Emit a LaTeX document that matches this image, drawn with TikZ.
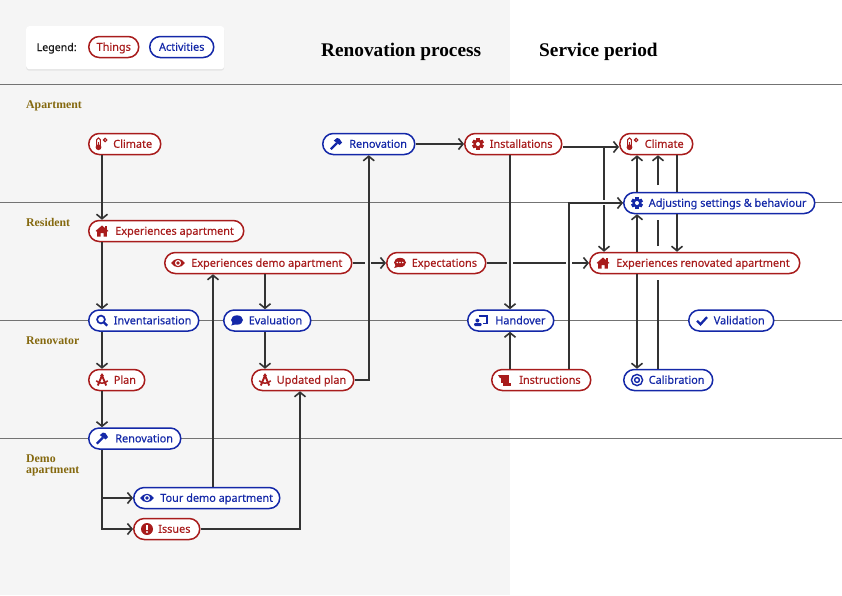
\documentclass[tikz,border=0pt]{standalone}
\usepackage{fontspec}
\setmainfont{Noto Sans}[FakeBold=0.35]
\newfontfamily\headfont{Liberation Serif}[BoldFont={Liberation Serif Bold}]
\usetikzlibrary{arrows.meta,shadows}
\definecolor{thingred}{HTML}{A81C1C}
\definecolor{activityblue}{HTML}{1428A8}
\definecolor{linegrey}{HTML}{333333}
\definecolor{bandgrey}{HTML}{F5F5F5}
\definecolor{rolebrown}{HTML}{85690F}
\tikzset{
    pill/.style={rounded corners=10.5pt,fill=white,line width=1.5pt,minimum height=21pt,inner xsep=0pt,inner ysep=0pt,
        text height=9.5pt,text depth=2pt,font=\fontsize{10.9}{12}\selectfont},
    thing/.style={pill,draw=thingred,text=thingred},
    activity/.style={pill,draw=activityblue,text=activityblue},
    thingicon/.style={color=thingred},
    activityicon/.style={color=activityblue},
    flow/.style={draw=linegrey,line width=1.6pt,>={Straight Barb[length=4.5pt,width=11pt]}},
    band/.style={draw=black!55,line width=0.9pt},
    role/.style={anchor=base west,inner sep=0pt,text=rolebrown,font=\headfont\bfseries\fontsize{11.8}{11}\selectfont,align=left},
    period/.style={anchor=base west,inner sep=0pt,font=\headfont\bfseries\fontsize{19.3}{20}\selectfont},
    thermo/.pic={\draw[line width=1.1pt,rounded corners=1.8pt] (-5.4,-6) rectangle (-1.6,3);
        \fill (-3.5,3.2) circle (2.9); \fill (-4.2,-2.5) rectangle (-2.8,3);
        \draw[line width=1.1pt] (3.2,-4) circle (1.7);},
    house/.pic={\fill (-6.5,0) -- (0,-5.5) -- (6.5,0) -- (4.8,0.8) -- (4.8,5.5) -- (1.5,5.5) -- (1.5,2) -- (-1.5,2) -- (-1.5,5.5) -- (-4.8,5.5) -- (-4.8,0.8) -- cycle;
        \fill (2.8,-5) rectangle (4.8,-1.5);},
    eye/.pic={\fill (-6.8,0) .. controls (-3,-5.6) and (3,-5.6) .. (6.8,0) .. controls (3,5.6) and (-3,5.6) .. cycle;
        \fill[white] (0,0) circle (3); \fill (0,0) circle (1.8);},
    lens/.pic={\draw[line width=1.7pt] (-1,-1) circle (3.9); \draw[line width=2.3pt] (1.8,1.8) -- (5.2,5.2);},
    bubble/.pic={\fill (0,-0.5) ellipse (6 and 4.7); \fill (-4,1.5) -- (-5.8,5) -- (-0.8,3.6) -- cycle;},
    talk/.pic={\fill (0,-0.5) ellipse (6 and 4.7); \fill (-4,1.5) -- (-5.8,5) -- (-0.8,3.6) -- cycle;
        \foreach \dx in {-2.8,0,2.8}{\fill[white] (\dx,-0.5) circle (0.9);}},
    dividers/.pic={\fill (0,-4.5) circle (1.9);
        \draw[line width=1.9pt] (-4.2,5.5) -- (0,-4.5) -- (4.2,5.5);
        \draw[line width=1.5pt] (-5.8,0.8) .. controls (-2,4) and (2,4) .. (5.8,0.8);},
    hammer/.pic={\draw[line width=2.2pt] (-5.2,5.2) -- (1,-1);
        \fill (-2.2,-3.4) -- (1,-6) -- (3.5,-5.2) -- (6,-1.5) -- (3.6,1) -- cycle;},
    gear/.pic={\foreach \a in {0,60,...,300}{\fill[rotate=\a] (-1.7,-6) rectangle (1.7,0);}
        \fill (0,0) circle (4.6); \fill[white] (0,0) circle (2);},
    alert/.pic={\fill (0,0) circle (6); \fill[white] (-0.9,-3.6) rectangle (0.9,1); \fill[white] (0,3) circle (1.05);},
    teacher/.pic={\draw[line width=1.2pt] (-2.5,-4.5) -- (6,-4.5) -- (6,3.2) -- (1.5,3.2);
        \fill (-3.6,0) circle (2); \fill[rounded corners=1pt] (-6.8,2.5) rectangle (0.6,5.5);},
    scroll/.pic={\fill (-3.6,-5) rectangle (4.2,2.6); \fill (-7,-5) -- (-3.6,-5) -- (-3.6,-1.8) -- (-5,-1.8) -- cycle;
        \fill (-1.6,3.4) rectangle (6.4,5.6);},
    target/.pic={\draw[line width=1.4pt] (0,0) circle (5.6); \draw[line width=1.4pt] (0,0) circle (2.4);},
    tick/.pic={\draw[line width=2.3pt] (-5,0.3) -- (-1.5,3.8) -- (5,-3.4);},
}
% pill: kind, name, left edge, width, y, icon, text
\newcommand{\pill}[8][24.5]{
    \node[#2,minimum width=#5pt,anchor=west] (#3) at (#4,#6) {\makebox[#5pt][l]{\hspace{#1pt}#8}};
    \pic[#2icon] at ({#4+14},#6) {#7};
}

\begin{document}
\begin{tikzpicture}[x=1pt,y=-1pt]
    \useasboundingbox (0,0) rectangle (842,595);
    \fill[white] (0,0) rectangle (842,595);
    \fill[bandgrey] (0,0) rectangle (510,595);

    % swimlane rules
    \foreach \y in {84.5,202.5,320.5,438.5}{
        \draw[band] (0,\y)--(842,\y);
    }

    % legend
    \node[anchor=north west,minimum width=198pt,minimum height=43pt,fill=white,rounded corners=3pt,
        drop shadow={opacity=0.14,shadow xshift=0pt,shadow yshift=-1.5pt}] (legend) at (26,26) {};
    \node[anchor=base west,inner sep=0pt,text=black!90,font=\fontsize{10.6}{11}\selectfont] (legendtitle) at (36.5,51) {Legend:};
    \node[thing,minimum width=50pt,anchor=west] (legthings) at (88,47) {Things};
    \node[activity,minimum width=64pt,anchor=west] (legactivities) at (149,47) {Activities};

    \node[period] (headreno) at (321,56) {Renovation process};
    \node[period] (headservice) at (539,56) {Service period};

    \node[role] (roleapt) at (26,108) {Apartment};
    \node[role] (roleres) at (26,226) {Resident};
    \node[role] (rolereno) at (26,344) {Renovator};
    \node[role] (roledemo) at (26,473) {Demo\\apartment};

    % nodes
    \pill{thing}{climA}{88}{72}{144}{thermo}{Climate}
    \pill[26.5]{thing}{expapt}{88}{155}{231}{house}{Experiences apartment}
    \pill[26.5]{thing}{expdemo}{164}{187}{263}{eye}{Experiences demo apartment}
    \pill[25]{activity}{invent}{88}{110}{320.5}{lens}{Inventarisation}
    \pill[25]{activity}{evalu}{223}{87}{320.5}{bubble}{Evaluation}
    \pill[25]{thing}{plan}{88}{56}{380}{dividers}{Plan}
    \pill[25]{thing}{updplan}{251}{102}{380}{dividers}{Updated plan}
    \pill[26.5]{activity}{renoB}{88}{92}{438.5}{hammer}{Renovation}
    \pill[26.5]{activity}{tour}{133}{146}{498}{eye}{Tour demo apartment}
    \pill[24.5]{thing}{issues}{133}{66}{529}{alert}{Issues}
    \pill[26.5]{activity}{renoA}{322}{92}{144}{hammer}{Renovation}
    \pill[25]{thing}{install}{464}{97}{144}{gear}{Installations}
    \pill[25]{thing}{expect}{386}{99}{263}{talk}{Expectations}
    \pill[27.5]{activity}{handover}{467}{86}{320.5}{teacher}{Handover}
    \pill[27.5]{thing}{instruct}{491}{99}{380}{scroll}{Instructions}
    \pill[25]{thing}{climB}{619}{73}{144}{thermo}{Climate}
    \pill[25]{activity}{adjust}{623}{191}{203}{gear}{Adjusting settings \& behaviour}
    \pill[26.5]{thing}{exprenov}{589}{210}{263}{house}{Experiences renovated apartment}
    \pill[25]{activity}{valid}{688}{85}{320.5}{tick}{Validation}
    \pill[25]{activity}{calib}{623}{89}{380}{target}{Calibration}

    % guides for the connectors
    \foreach \nm/\xv in {xa/102,xb/213,xc/265,xd/300,xe/510,xf/569,xg/604,xh/637,xi/658,xj/677}{
        \coordinate (\nm) at (\xv,0);
    }
    \coordinate (yinst) at (0,147);
    \foreach \nm/\xv/\yv in {gapa/365/263,gapb/371/263,gapc/507/263,gapd/513/263,gape/566/263,gapf/572/263,
        gapg/604/200,gaph/604/205,gapi/658/280,gapj/658/246,gapk/658/220,gapl/658/185}{
        \coordinate (\nm) at (\xv,\yv);
    }

    % connectors
    \draw[flow,->] (climA.south -| xa)--(expapt.north -| xa);
    \draw[flow,->] (expapt.south -| xa)--(invent.north -| xa);
    \draw[flow,->] (invent.south -| xa)--(plan.north -| xa);
    \draw[flow,->] (plan.south -| xa)--(renoB.north -| xa);
    \draw[flow,->] (renoB.south -| xa) |- (tour.west);
    \draw[flow,->] (renoB.south -| xa) |- (issues.west);
    \draw[flow,->] (tour.north -| xb)--(expdemo.south -| xb);
    \draw[flow,->] (expdemo.south -| xc)--(evalu.north -| xc);
    \draw[flow,->] (evalu.south -| xc)--(updplan.north -| xc);
    \draw[flow,->] (issues.east) -| (updplan.south -| xd);
    \draw[flow,->] (updplan.east) -| (renoA.south);
    \draw[flow,->] (renoA.east)--(install.west);
    \draw[flow,->] (install.east |- yinst)--(climB.west |- yinst);
    \draw[flow] (xg |- yinst)--(gapg);
    \draw[flow,->] (gaph)--(exprenov.north -| xg);
    \draw[flow,->] (install.south -| xe)--(handover.north -| xe);
    \draw[flow,->] (instruct.north -| xe)--(handover.south -| xe);
    \draw[flow,->] (instruct.north -| xf) |- (adjust.west);
    \draw[flow] (expdemo.east)--(gapa);
    \draw[flow,->] (gapb)--(expect.west);
    \draw[flow] (expect.east)--(gapc);
    \draw[flow] (gapd)--(gape);
    \draw[flow,->] (gapf)--(exprenov.west);
    \draw[flow,->] (adjust.north -| xh)--(climB.south -| xh);
    \draw[flow,->] (exprenov.north -| xh)--(adjust.south -| xh);
    \draw[flow,->] (exprenov.south -| xh)--(calib.north -| xh);
    \draw[flow] (calib.north -| xi)--(gapi);
    \draw[flow] (gapj)--(gapk);
    \draw[flow,->] (gapl)--(climB.south -| xi);
    \draw[flow] (climB.south -| xj)--(adjust.north -| xj);
    \draw[flow,->] (adjust.south -| xj)--(exprenov.north -| xj);
\end{tikzpicture}
\end{document}
